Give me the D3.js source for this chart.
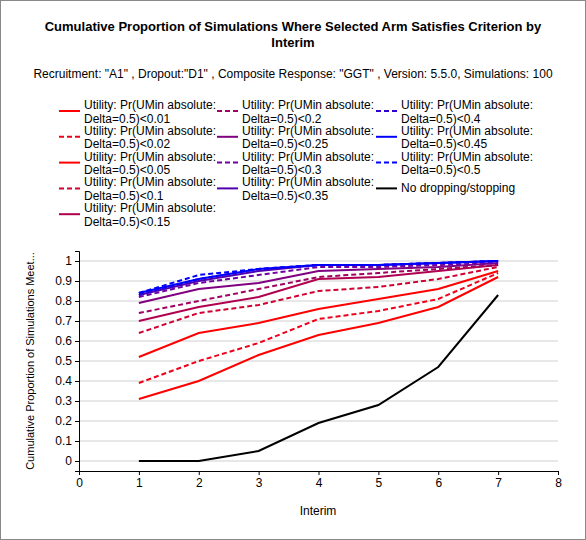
<!DOCTYPE html><html><head><script src="https://cdn.jsdelivr.net/npm/d3@7"></script>
<style>body{margin:0;background:#fff}text{font-family:"Liberation Sans",Arial,sans-serif}</style></head><body>
<script>
const interims=[1,2,3,4,5,6,7];
const seriesNames=["Utility: Pr(UMin absolute:|Delta=0.5)<0.01","Utility: Pr(UMin absolute:|Delta=0.5)<0.02","Utility: Pr(UMin absolute:|Delta=0.5)<0.05","Utility: Pr(UMin absolute:|Delta=0.5)<0.1","Utility: Pr(UMin absolute:|Delta=0.5)<0.15","Utility: Pr(UMin absolute:|Delta=0.5)<0.2","Utility: Pr(UMin absolute:|Delta=0.5)<0.25","Utility: Pr(UMin absolute:|Delta=0.5)<0.3","Utility: Pr(UMin absolute:|Delta=0.5)<0.35","Utility: Pr(UMin absolute:|Delta=0.5)<0.4","Utility: Pr(UMin absolute:|Delta=0.5)<0.45","Utility: Pr(UMin absolute:|Delta=0.5)<0.5","No dropping/stopping"];
const s001=[0.31,0.40,0.53,0.63,0.69,0.77,0.92];
const s002=[0.39,0.50,0.59,0.71,0.75,0.81,0.94];
const s005=[0.52,0.64,0.69,0.76,0.81,0.86,0.95];
const s010=[0.64,0.74,0.78,0.85,0.87,0.91,0.97];
const s015=[0.70,0.77,0.82,0.91,0.92,0.95,0.98];
const s020=[0.74,0.80,0.86,0.92,0.94,0.96,0.98];
const s025=[0.79,0.86,0.89,0.95,0.96,0.97,0.99];
const s030=[0.82,0.89,0.93,0.97,0.97,0.98,0.99];
const s035=[0.83,0.90,0.95,0.98,0.98,0.99,1.0];
const s040=[0.83,0.91,0.96,0.98,0.98,0.99,1.0];
const s045=[0.84,0.91,0.96,0.98,0.98,0.99,1.0];
const s050=[0.84,0.93,0.96,0.98,0.98,0.99,1.0];
const sNone=[0,0,0.05,0.19,0.28,0.47,0.83];
const values=[s001,s002,s005,s010,s015,s020,s025,s030,s035,s040,s045,s050,sNone];
const colors=["#ff0000","#f0001a","#ff0000","#d00030","#b00050","#a00060","#800080","#7000a0","#5000b0","#3000d0","#0000ff","#0000ff","#000000"];
const dashed=[false,true,false,true,false,true,false,true,false,true,false,true,false];
const yTicks=d3.range(0,1.01,0.1);
const xTicks=d3.range(0,9);

const W=586,H=540;
const svg=d3.select("body").append("svg").attr("width",W).attr("height",H);
svg.append("rect").attr("x",0.5).attr("y",0.5).attr("width",W-1).attr("height",H-1).attr("fill","#fff").attr("stroke","#888");
svg.append("text").attr("x",293).attr("y",31).attr("text-anchor","middle").attr("font-weight","bold").attr("font-size",13).text("Cumulative Proportion of Simulations Where Selected Arm Satisfies Criterion by");
svg.append("text").attr("x",293).attr("y",47).attr("text-anchor","middle").attr("font-weight","bold").attr("font-size",13).text("Interim");
svg.append("text").attr("x",293).attr("y",78).attr("text-anchor","middle").attr("font-size",12).text('Recruitment: "A1" , Dropout:"D1" , Composite Response: "GGT" , Version: 5.5.0, Simulations: 100');

const x=d3.scaleLinear().domain([0,8]).range([79,558]);
const y=d3.scaleLinear().domain([-0.05,1.05]).range([471,251]);
svg.append("g").selectAll("line").data(yTicks).join("line").attr("x1",79).attr("x2",558).attr("y1",d=>y(d)).attr("y2",d=>y(d)).attr("stroke","#d0d0d0");
const ya=svg.append("g").attr("transform","translate(79,0)").call(d3.axisLeft(y).tickValues(yTicks).tickFormat(d=>d===0?"0":(Math.abs(d-1)<1e-9?"1":d3.format(".1f")(d))).tickSize(4));
ya.selectAll("text").attr("font-size",12);
const xa=svg.append("g").attr("transform","translate(0,471)").call(d3.axisBottom(x).tickValues(xTicks).tickFormat(d3.format("d")).tickSize(4));
xa.selectAll("text").attr("font-size",12);
svg.selectAll(".domain,.tick line").attr("stroke","#000");
svg.append("text").attr("transform","translate(34,361) rotate(-90)").attr("text-anchor","middle").attr("font-size",11).text("Cumulative Proportion  of Simulations Meet...");
svg.append("text").attr("x",318).attr("y",515).attr("text-anchor","middle").attr("font-size",12).text("Interim");

const line=d3.line().x((d,i)=>x(interims[i])).y(d=>y(d));
values.forEach((v,k)=>{
  svg.append("path").attr("d",line(v)).attr("fill","none").attr("stroke",colors[k]).attr("stroke-width",2).attr("stroke-dasharray",dashed[k]?"5,3":null);
});

const colX=[59,217,376], rowY0=111, rowH=25.8;
const perCol=[5,4,4];
let idx=0;
perCol.forEach((n,c)=>{
  for(let r=0;r<n;r++,idx++){
    const yy=rowY0+r*rowH;
    svg.append("line").attr("x1",colX[c]).attr("x2",colX[c]+21).attr("y1",yy).attr("y2",yy).attr("stroke",colors[idx]).attr("stroke-width",2).attr("stroke-dasharray",dashed[idx]?"5,3":null);
    const parts=seriesNames[idx].split("|");
    parts.forEach((p,j)=>{
      svg.append("text").attr("x",colX[c]+25).attr("y",parts.length>1?yy-2+j*13.5:yy+4).attr("font-size",12).text(p);
    });
  }
});
</script></body></html>
